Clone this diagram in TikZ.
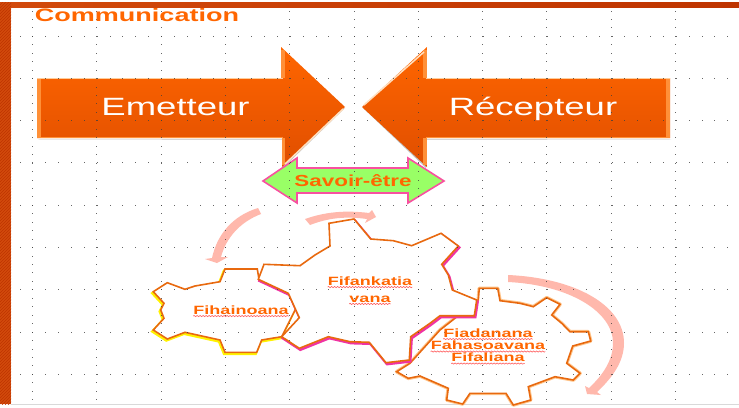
\documentclass[tikz,border=0pt]{standalone}
\usepackage{fontspec}
\setmainfont{Liberation Sans}
\usetikzlibrary{decorations.pathmorphing,patterns}
\definecolor{barorange}{HTML}{D24A0C}
\definecolor{bardark}{HTML}{BE3400}
\definecolor{textorange}{HTML}{FF6600}
\definecolor{arrowtop}{HTML}{FF6600}
\definecolor{arrowbottom}{HTML}{E04E00}
\definecolor{bevel}{HTML}{FF9038}
\definecolor{curvepink}{HTML}{FFB8AC}
\definecolor{gearline}{HTML}{E8690F}
\definecolor{savoirgreen}{HTML}{99FF66}
\definecolor{savoirpink}{HTML}{F850A0}
\tikzset{
  bigarrow/.style={top color=arrowtop,bottom color=arrowbottom,draw=none},
  bigtext/.style={text=white,font=\fontsize{25}{28}\selectfont,xscale=1.46,anchor=base},
  geartext/.style={text=textorange,font=\bfseries\fontsize{12}{14}\selectfont,xscale=1.5,inner sep=0pt,text depth=0pt},
  wavy/.style={draw=red!65!white,line width=.6pt,decorate,decoration={snake,amplitude=.6pt,segment length=3pt}},
  griddot/.style={fill=black!75,opacity=.8},
  gearpath/.style={draw=gearline,fill=white,line width=1.6pt,line join=miter}
}
\def\gearone{(153.3,291.7) -- (167.3,282.7) -- (185,289.3) -- (195,286) -- (220,281.7) -- (225,269) -- (257.3,269) -- (259,279.3) -- (300,300) -- (281.7,336.7) -- (261.7,340) -- (256.7,352.3) -- (225,352.3) -- (220,340) -- (185,332.3) -- (167.3,339) -- (153.3,330) -- (164,318.3) -- (160.7,310) -- (164,303.3) -- cycle}
\def\geartwo{(258.3,279.3) -- (264,264.3) -- (300,265.7) -- (315,255) -- (330,246) -- (329,223.3) -- (354,219) -- (370.7,239) -- (393.3,240.7) -- (411.7,245.7) -- (441,233.3) -- (458.3,246) -- (441.7,264.3) -- (448.3,275) -- (452.3,290) -- (476.7,300) -- (474.3,315.7) -- (440,315.7) -- (430,323.3) -- (410.7,336.7) -- (409.3,360) -- (386,362.7) -- (369.3,342.3) -- (350,341.7) -- (328.3,336.7) -- (299.3,348.3) -- (281.7,336.7) -- (299.3,317.7) -- (288.3,293.3) -- cycle}
\def\gearthree{(478.3,300) -- (479.3,288.3) -- (497.7,288.3) -- (500,300.7) -- (520,303.3) -- (533.3,306.7) -- (546.7,297.7) -- (560,304.3) -- (551.7,315) -- (561.7,323.3) -- (570,331.7) -- (588.3,331.7) -- (590.7,341) -- (572.7,346) -- (566.7,363.3) -- (580,373.3) -- (573.3,380) -- (555,376.7) -- (528.3,386.7) -- (530.7,400) -- (513.3,405) -- (506,393.3) -- (470,393.3) -- (462.7,404) -- (446.7,400) -- (448.3,388.3) -- (420,376) -- (408.3,378.3) -- (396.7,371.7) -- (410,363.3) -- (440,330) -- cycle}
\begin{document}
\begin{tikzpicture}[x=1pt,y=-1pt]
\useasboundingbox[fill=white] (0,0) rectangle (739,407);
% frame
\fill[left color=barorange,right color=bardark] (0,2) rectangle (739,7);
\fill[barorange] (0,2) rectangle (11,404);
\fill[pattern=north east lines,pattern color=bardark] (0,2) rectangle (11,404);
\draw[black!15,line width=1pt] (11,404.5) -- (739,404.5);
% big arrows
\fill[black!25] (38,139.5) -- (283,139.5) -- (283,168) -- (345,108) -- (283,139) -- cycle;
\fill[black!25] (671,139.5) -- (426,139.5) -- (426,168) -- (363,108) -- (426,139) -- cycle;
\path[bigarrow] (37,78) -- (283,78) -- (281,47) -- (345,107) -- (282,167) -- (283,138) -- (37,138) -- cycle;
\path[bigarrow] (670,78) -- (426,78) -- (427,47) -- (362,107) -- (427,167) -- (426,138) -- (670,138) -- cycle;
\fill[bevel] (37,78) rectangle (41,138);
\fill[bevel] (670,78) rectangle (666,138);
\fill[bevel] (281.2,50) rectangle (285,78);
\fill[bevel] (281.8,138) rectangle (285,165);
\fill[bevel] (426.8,50) rectangle (423,78);
\fill[bevel] (426.8,138) rectangle (423,165);
\draw[orange!40!white,line width=1pt] (37,78) -- (283,78);
\draw[orange!40!white,line width=1pt] (670,78) -- (426,78);
\draw[bevel,line width=1pt] (37,137.5) -- (283,137.5);
\draw[bevel,line width=1pt] (670,137.5) -- (426,137.5);
\draw[orange!25!white,line width=1.5pt] (343,109) -- (285,164);
\draw[orange!25!white,line width=1.5pt] (364,105) -- (424,52);
% savoir arrow
\draw[savoirpink,fill=savoirgreen,line width=1.6pt] (263,181) -- (297,158) -- (297,168) -- (408,168) -- (408,158) -- (444,181) -- (408,203) -- (408,193) -- (297,193) -- (297,203) -- cycle;
% curved arrows
\fill[curvepink] (258,208) .. controls (232,216) and (217,235) .. (212,258) -- (205,259) -- (217,263) -- (228,257) -- (221,257) .. controls (226,238) and (240,222) .. (261,214) -- cycle;
\fill[curvepink] (305,219) .. controls (325,212) and (345,210) .. (369,213) -- (372,210) -- (376,217) -- (365,223) -- (367,219) .. controls (345,216) and (328,218) .. (310,225) -- cycle;
\fill[curvepink] (508,275) .. controls (575,278) and (624,305) .. (624,343) .. controls (624,362) and (612,378) .. (597,392) -- (601,395) -- (587,394) -- (585,386) -- (589,388) .. controls (603,375) and (613,360) .. (613,343) .. controls (613,312) and (570,285) .. (508,282) -- cycle;
% gears
\draw[orange!45!white,line width=3.6pt,line join=round] \gearthree;
\draw[gearpath] \gearthree;
\draw[yellow,line width=2.4pt,xshift=-1pt,yshift=-1.5pt] \gearone;
\draw[gearpath] \gearone;
\draw[magenta!80!white,line width=2.4pt,xshift=1pt,yshift=-1.5pt] \geartwo;
\draw[gearpath] \geartwo;
% grid
\foreach \gx in {0,...,10}
  \foreach \gy in {0,...,46}
    \fill[griddot] ({32.5+64.3*\gx-.5},{11+8.45*\gy-.5}) rectangle ++(1,1);
\foreach \gy in {0,...,8}
  \foreach \gx in {0,...,55}
    \fill[griddot] ({20+12.87*\gx-.5},{36+42.3*\gy-.5}) rectangle ++(1,1);
% labels
\node[text=textorange,font=\bfseries\fontsize{18}{20}\selectfont,xscale=1.5] (title) at (137,15) {Communication};
\node[bigtext] (emetteur) at (175.5,115) {Emetteur};
\node[bigtext] (recepteur) at (533,115) {Récepteur};
\node[text=textorange,font=\bfseries\fontsize{16}{18}\selectfont,xscale=1.4] (savoir) at (353,181) {Savoir-être};
\node[geartext] (fiha) at (241,310) {Fihainoana};
\node[geartext] (fifank) at (370,281) {Fifankatia};
\node[geartext] (vana) at (370,299) {vana};
\node[geartext] (fiad) at (488,333) {Fiadanana};
\node[geartext] (faha) at (488,345.5) {Fahasoavana};
\node[geartext] (fifal) at (488,357.5) {Fifaliana};
\foreach \wname in {fiha,fifank,vana,fiad,faha,fifal}
  \draw[wavy] ([yshift=-1.5pt]\wname.south west) -- ([yshift=-1.5pt]\wname.south east);
\end{tikzpicture}
\end{document}
